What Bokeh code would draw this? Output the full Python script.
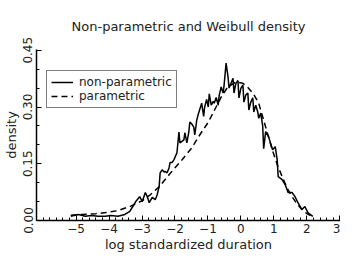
from bokeh.plotting import figure
from bokeh.models import Range1d, FixedTicker, NumeralTickFormatter, Legend, LegendItem
from bokeh.embed import file_html
from bokeh.resources import INLINE

# Non-parametric density
np_x = [-5.16, -4.93, -4.72, -4.54, -4.33, -4.12, -3.94, -3.73, -3.52, -3.37,
        -3.28, -3.19, -3.07, -2.99, -2.90, -2.84, -2.78, -2.69, -2.60, -2.54,
        -2.48, -2.45, -2.39, -2.33, -2.30, -2.24, -2.18, -2.15, -2.09, -2.03,
        -1.94, -1.88, -1.85, -1.73, -1.70, -1.64, -1.58, -1.55, -1.49, -1.43,
        -1.40, -1.34, -1.28, -1.19, -1.13, -1.10, -1.04, -0.99, -0.96, -0.90,
        -0.84, -0.81, -0.75, -0.69, -0.66, -0.60, -0.54, -0.51, -0.45, -0.39,
        -0.36, -0.30, -0.24, -0.21, -0.15, -0.09, -0.06, 0.00, 0.06, 0.09,
        0.15, 0.21, 0.24, 0.30, 0.36, 0.39, 0.45, 0.51, 0.54, 0.60,
        0.66, 0.69, 0.75, 0.84, 0.96, 1.04, 1.10, 1.13, 1.25, 1.34,
        1.43, 1.55, 1.64, 1.73, 1.85, 1.94, 2.03, 2.18]
np_y = [0.011, 0.016, 0.011, 0.013, 0.011, 0.011, 0.013, 0.011, 0.016, 0.024,
        0.037, 0.050, 0.063, 0.050, 0.074, 0.063, 0.047, 0.061, 0.055, 0.068,
        0.090, 0.126, 0.134, 0.128, 0.130, 0.126, 0.139, 0.153, 0.153, 0.161,
        0.179, 0.234, 0.205, 0.213, 0.232, 0.205, 0.234, 0.260, 0.255, 0.247,
        0.226, 0.265, 0.285, 0.310, 0.275, 0.300, 0.320, 0.300, 0.335, 0.305,
        0.315, 0.310, 0.325, 0.305, 0.330, 0.353, 0.337, 0.358, 0.416, 0.379,
        0.350, 0.363, 0.376, 0.337, 0.363, 0.370, 0.324, 0.350, 0.358, 0.313,
        0.332, 0.337, 0.292, 0.313, 0.324, 0.287, 0.305, 0.287, 0.270, 0.284,
        0.250, 0.190, 0.235, 0.221, 0.187, 0.195, 0.161, 0.116, 0.108, 0.095,
        0.074, 0.074, 0.063, 0.047, 0.029, 0.037, 0.021, 0.011]

# Parametric (Weibull) density
par_x = [-5.16, -4.80, -4.40, -4.10, -3.73, -3.34, -3.00, -2.75, -2.48, -2.15,
         -1.79, -1.49, -1.25, -0.99, -0.80, -0.60, -0.40, -0.15, 0.05, 0.20,
         0.38, 0.54, 0.75, 0.95, 1.10, 1.25, 1.40, 1.55, 1.70, 1.85, 2.00, 2.15]
par_y = [0.014, 0.016, 0.018, 0.021, 0.026, 0.038, 0.052, 0.068, 0.089, 0.124,
         0.160, 0.192, 0.226, 0.260, 0.292, 0.326, 0.353, 0.366, 0.363, 0.353,
         0.335, 0.310, 0.247, 0.187, 0.148, 0.116, 0.086, 0.063, 0.044, 0.029, 0.018, 0.011]

x_ticks = [-5, -4, -3, -2, -1, 0, 1, 2, 3]
y_ticks = [0.0, 0.15, 0.30, 0.45]

FONT = "DejaVu Sans"

p = figure(frame_width=304, frame_height=171, output_backend="svg", toolbar_location=None,
           x_range=Range1d(-6.2, 3.02), y_range=Range1d(0, 0.452),
           title="Non-parametric and Weibull density")
p.min_border_left = 30
p.min_border_right = 0
p.min_border_top = 42
p.min_border_bottom = 30
p.outline_line_color = None
p.xgrid.visible = False
p.ygrid.visible = False
p.background_fill_color = "white"

p.title.align = "center"
p.title.text_font = FONT
p.title.text_font_style = "normal"
p.title.text_font_size = "13px"
p.title.text_color = "#222222"
p.title.standoff = 32

r1 = p.line(np_x, np_y, line_color="black", line_width=1.5)
r2 = p.line(par_x, par_y, line_color="black", line_width=1.5, line_dash="6 4")

minor_x = [round(-6.0 + 0.2 * i, 2) for i in range(46)]
minor_y = [round(0.05 * i, 2) for i in range(10)]
p.xaxis.ticker = FixedTicker(ticks=x_ticks, minor_ticks=minor_x)
p.yaxis.ticker = FixedTicker(ticks=y_ticks, minor_ticks=minor_y)
p.yaxis.formatter = NumeralTickFormatter(format="0.00")

for ax in (p.xaxis[0], p.yaxis[0]):
    ax.axis_line_color = "black"
    ax.axis_line_width = 1.5
    ax.major_tick_line_color = "black"
    ax.minor_tick_line_color = "black"
    ax.major_tick_in = 5
    ax.major_tick_out = 0
    ax.minor_tick_in = 3
    ax.minor_tick_out = 0
    ax.major_label_text_font = FONT
    ax.major_label_text_font_size = "12px"
    ax.major_label_text_color = "#222222"
    ax.axis_label_text_font = FONT
    ax.axis_label_text_font_style = "normal"
    ax.axis_label_text_font_size = "13px"
    ax.axis_label_text_color = "#222222"

p.xaxis.axis_label = "log standardized duration"
p.yaxis.axis_label = "density"
p.yaxis.major_label_orientation = "vertical"
p.xaxis.major_label_standoff = 3
p.yaxis.major_label_standoff = 4
p.xaxis.axis_label_standoff = 1
p.yaxis.axis_label_standoff = 2

legend = Legend(items=[LegendItem(label="non-parametric", renderers=[r1]),
                       LegendItem(label="parametric", renderers=[r2])],
                location=(10, 112))
legend.border_line_color = "black"
legend.border_line_width = 1.5
legend.background_fill_alpha = 1.0
legend.label_text_font = FONT
legend.label_text_font_size = "12px"
legend.label_text_color = "#222222"
legend.glyph_width = 22
legend.glyph_height = 10
legend.label_height = 10
legend.spacing = 0
legend.padding = 4
legend.margin = 0
legend.label_standoff = 6
p.add_layout(legend)

open("out.html", "w").write(file_html(p, INLINE))
